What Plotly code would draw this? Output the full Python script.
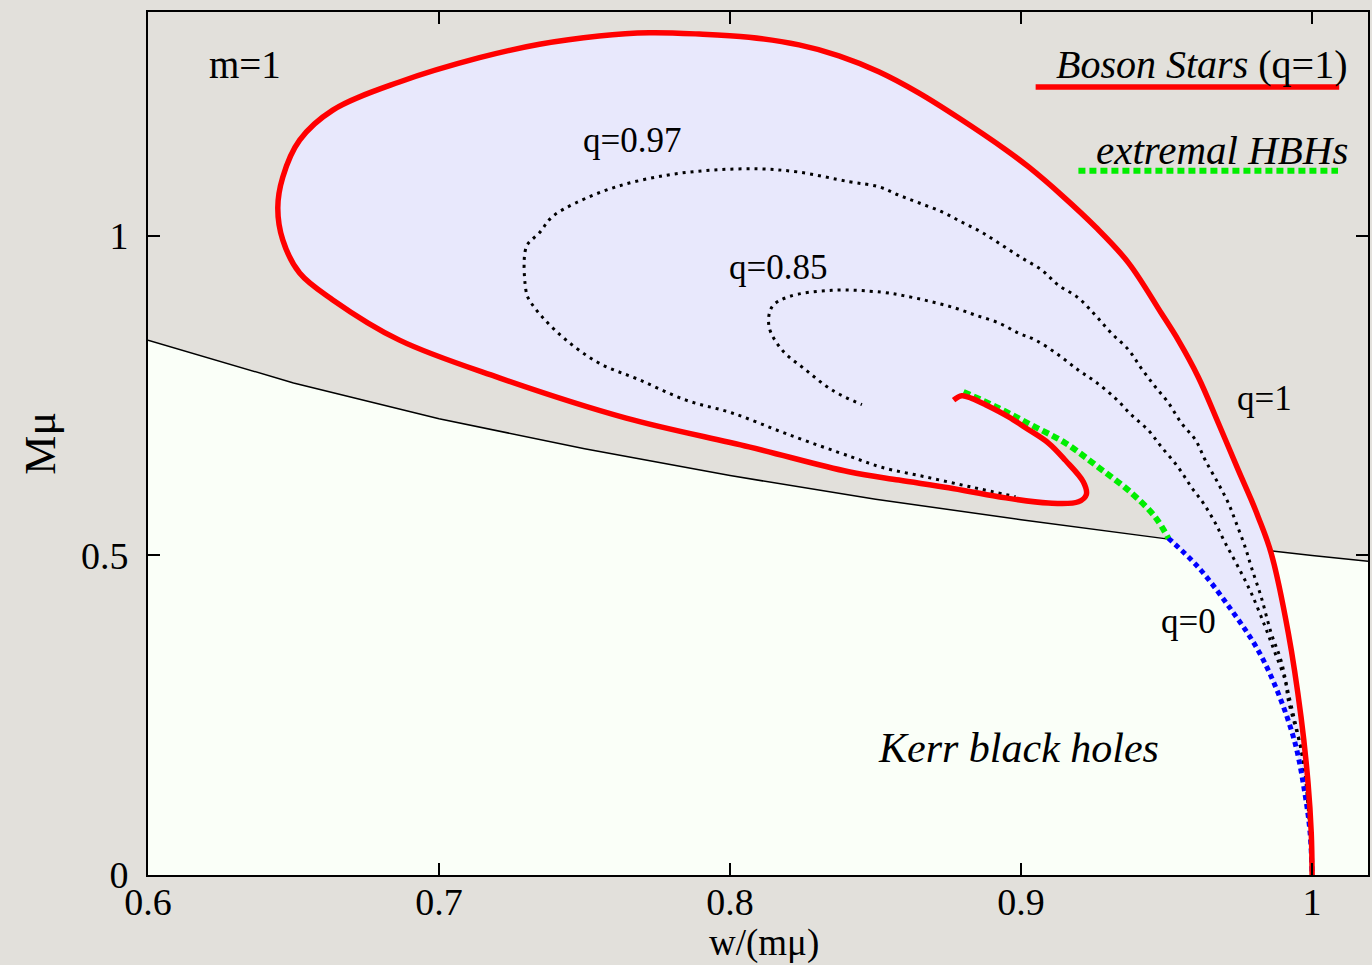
import plotly.graph_objects as go

# ---- data ----
# Boson stars (q=1), starting at w=1, M=0 and spiralling inwards
bs_w = [1.0, 0.9997, 0.9986, 0.9962, 0.9918, 0.9859, 0.9815, 0.9791, 0.9746, 0.9678,
        0.9609, 0.9540, 0.9482, 0.9369, 0.9256, 0.9139, 0.9026, 0.8947, 0.8785, 0.8648,
        0.8511, 0.8374, 0.8237, 0.8065, 0.7894, 0.7722, 0.7550, 0.7345, 0.7139, 0.6864,
        0.6635, 0.6521, 0.6463, 0.6446, 0.6463, 0.6521, 0.6635, 0.6864, 0.7207, 0.7643,
        0.8065, 0.8408, 0.8580, 0.8751, 0.8922, 0.9094, 0.9197, 0.9224, 0.9214, 0.9152,
        0.9094, 0.9015, 0.8957, 0.8878, 0.8830, 0.8796, 0.8768]
bs_M = [0.0, 0.066, 0.144, 0.247, 0.379, 0.504, 0.560, 0.587, 0.634, 0.707,
        0.779, 0.837, 0.879, 0.958, 1.014, 1.064, 1.108, 1.135, 1.185, 1.224,
        1.257, 1.282, 1.299, 1.311, 1.316, 1.318, 1.313, 1.300, 1.279, 1.241,
        1.197, 1.150, 1.092, 1.044, 0.994, 0.942, 0.900, 0.837, 0.778, 0.715,
        0.670, 0.631, 0.618, 0.606, 0.592, 0.582, 0.584, 0.595, 0.615, 0.649,
        0.676, 0.700, 0.717, 0.736, 0.746, 0.750, 0.743]

# extremal hairy black holes
ext_w = [0.8802, 0.8922, 0.9036, 0.9152, 0.9266, 0.9379, 0.9461, 0.9506]
ext_M = [0.756, 0.731, 0.704, 0.676, 0.638, 0.598, 0.560, 0.527]

# q=0 (Kerr existence line)
q0_w = [0.9506, 0.9608, 0.9722, 0.9814, 0.9883, 0.9941, 0.9975, 0.9993, 1.0]
q0_M = [0.527, 0.482, 0.415, 0.352, 0.285, 0.207, 0.128, 0.066, 0.0]

# q=0.97
q97_w = [1.0, 0.9986, 0.9962, 0.9918, 0.9893, 0.9859, 0.9825, 0.9791, 0.9770, 0.9739,
         0.9712, 0.9677, 0.9633, 0.9599, 0.9551, 0.9506, 0.9461, 0.9413, 0.9369, 0.9310,
         0.9255, 0.9197, 0.9128, 0.9070, 0.9001, 0.8933, 0.8864, 0.8795, 0.8727, 0.8648,
         0.8579, 0.8511, 0.8408, 0.8236, 0.8099, 0.7938, 0.7780, 0.7609, 0.7471, 0.7389,
         0.7345, 0.7300, 0.7300, 0.7310, 0.7355, 0.7437, 0.7550, 0.7688, 0.7849, 0.8007,
         0.8202, 0.8419, 0.8521, 0.8672, 0.8830, 0.8981]
q97_M = [0.0, 0.120, 0.196, 0.285, 0.336, 0.379, 0.435, 0.482, 0.513, 0.551,
         0.582, 0.613, 0.649, 0.681, 0.707, 0.739, 0.764, 0.793, 0.822, 0.848,
         0.876, 0.903, 0.923, 0.947, 0.966, 0.986, 1.006, 1.022, 1.038, 1.052,
         1.064, 1.077, 1.085, 1.100, 1.105, 1.103, 1.095, 1.077, 1.052, 1.030,
         1.005, 0.983, 0.911, 0.900, 0.873, 0.837, 0.801, 0.775, 0.743, 0.723,
         0.689, 0.654, 0.638, 0.623, 0.607, 0.592]

# q=0.85
q85_w = [1.0, 0.9969, 0.9918, 0.9907, 0.9873, 0.9839, 0.9791, 0.9746, 0.9701, 0.9667,
         0.9626, 0.9585, 0.9540, 0.9482, 0.9437, 0.9379, 0.9324, 0.9255, 0.9197, 0.9128,
         0.9050, 0.8991, 0.8923, 0.8844, 0.8775, 0.8693, 0.8614, 0.8521, 0.8350, 0.8202,
         0.8144, 0.8134, 0.8178, 0.8261, 0.8350, 0.8453]
q85_M = [0.0, 0.180, 0.274, 0.305, 0.347, 0.388, 0.441, 0.482, 0.520, 0.551,
         0.582, 0.607, 0.638, 0.670, 0.696, 0.720, 0.746, 0.772, 0.790, 0.814,
         0.837, 0.848, 0.864, 0.876, 0.887, 0.897, 0.905, 0.912, 0.915, 0.905,
         0.889, 0.858, 0.822, 0.790, 0.759, 0.736]

# extremal Kerr line
kerr_w = [0.6, 0.65, 0.7, 0.75, 0.8, 0.85, 0.9, 0.95, 1.0, 1.0192]
kerr_M = [0.837, 0.770, 0.714, 0.667, 0.625, 0.588, 0.556, 0.526, 0.500, 0.491]

x_ticks = [0.6, 0.7, 0.8, 0.9, 1.0]
x_tick_text = ["0.6", "0.7", "0.8", "0.9", "1"]
y_ticks = [0, 0.5, 1]
y_tick_text = ["0", "0.5", "1"]

BG = "#e2e0db"
LAV = "#e8e8fc"
WHITE = "#fafff8"
FONT = "Liberation Serif"

fig = go.Figure()

# Kerr region (below extremal Kerr line)
fig.add_trace(go.Scatter(x=kerr_w, y=kerr_M, mode="lines", fill="tozeroy",
                         fillcolor=WHITE, line=dict(color="black", width=1.5),
                         hoverinfo="skip", showlegend=False))

# domain of existence of hairy BHs (lavender)
dom_w = bs_w + ext_w + q0_w
dom_M = bs_M + ext_M + q0_M
fig.add_trace(go.Scatter(x=dom_w, y=dom_M, mode="lines", fill="toself",
                         fillcolor=LAV, line=dict(width=0, color=LAV),
                         hoverinfo="skip", showlegend=False))

dot = dict(color="black", width=3, dash="3px,5px")
fig.add_trace(go.Scatter(x=q97_w, y=q97_M, mode="lines", line=dot, line_shape="spline",
                         showlegend=False))
fig.add_trace(go.Scatter(x=q85_w, y=q85_M, mode="lines", line=dot, line_shape="spline",
                         showlegend=False))
fig.add_trace(go.Scatter(x=q0_w, y=q0_M, mode="lines", line_shape="spline",
                         line=dict(color="#0000ff", width=5, dash="5px,4px"),
                         showlegend=False))
fig.add_trace(go.Scatter(x=ext_w, y=ext_M, mode="lines", line_shape="spline",
                         line=dict(color="#00ee00", width=6, dash="7px,4px"),
                         showlegend=False))
fig.add_trace(go.Scatter(x=bs_w, y=bs_M, mode="lines", line_shape="spline",
                         line=dict(color="#ff0000", width=5.5), showlegend=False))

# legend samples
fig.add_shape(type="line", x0=0.905, x1=1.0093, y0=1.233, y1=1.233,
              line=dict(color="#ff0000", width=5.5))
fig.add_shape(type="line", x0=0.9197, x1=1.0089, y0=1.102, y1=1.102,
              line=dict(color="#00ee00", width=6, dash="7px,4px"))

def ann(x, y, text, size=34, **kw):
    fig.add_annotation(x=x, y=y, text=text, showarrow=False,
                       font=dict(family=FONT, size=size, color="black"), **kw)

ann(0.6333, 1.268, "m=1", size=39)
ann(0.9620, 1.268, "<i>Boson Stars</i> (q=1)", size=40)
ann(0.9690, 1.135, "<i>extremal HBHs</i>", size=41)
ann(0.7664, 1.150, "q=0.97", size=35)
ann(0.8168, 0.950, "q=0.85", size=35)
ann(0.9835, 0.746, "q=1", size=35)
ann(0.9575, 0.396, "q=0", size=35)
ann(0.8991, 0.199, "<i>Kerr black holes</i>", size=42)

# axis titles
fig.add_annotation(x=0.505, y=-0.0788, xref="paper", yref="paper", text="w/(mμ)",
                   xanchor="center", yanchor="middle",
                   showarrow=False, font=dict(family=FONT, size=37, color="black"))
fig.add_annotation(x=-0.0884, y=0.500, xref="paper", yref="paper", text="Mμ",
                   xanchor="center", yanchor="middle",
                   textangle=-90, showarrow=False,
                   font=dict(family=FONT, size=44, color="black"))

axis_common = dict(showgrid=False, zeroline=False, showline=True, linecolor="black",
                   linewidth=2, mirror="ticks", ticks="inside", ticklen=12,
                   tickwidth=1.5, tickcolor="black",
                   tickfont=dict(family=FONT, size=38, color="black"))

fig.update_xaxes(range=[0.6, 1.0192], tickvals=x_ticks, ticktext=x_tick_text,
                 ticklabelstandoff=-8, **axis_common)
fig.update_yaxes(range=[0, 1.3505], tickvals=y_ticks, ticktext=y_tick_text,
                 ticklabelstandoff=10, **axis_common)

fig.update_layout(width=1372, height=965, paper_bgcolor=BG, plot_bgcolor=BG,
                  margin=dict(l=148, r=2, t=12, b=90), showlegend=False,
                  font=dict(family=FONT))

fig.write_html("out.html", config={"displayModeBar": False},
               post_script="document.body.style.margin='0';"
                           "document.body.style.overflow='hidden';"
                           "document.body.style.background='" + BG + "';")
